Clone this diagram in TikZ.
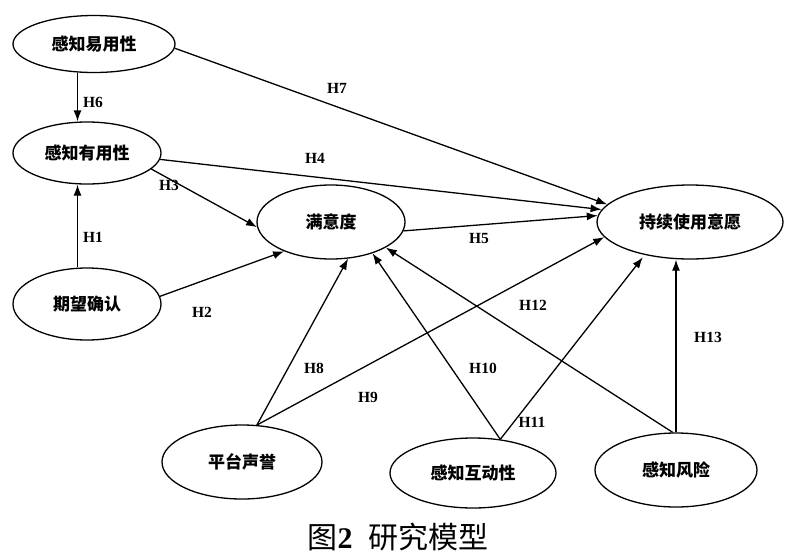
\documentclass[tikz,border=0pt]{standalone}
\usepackage{fontspec}
\setmainfont{Liberation Serif}
\newfontfamily\cjk{Noto Sans CJK SC}
\usetikzlibrary{shapes.geometric,arrows.meta}

\begin{document}
\begin{tikzpicture}[x=1pt,y=-1pt,
                    var/.style={draw,ellipse,line width=1.3pt,inner sep=0pt,font=\cjk\bfseries\fontsize{17}{17}\selectfont},
                    hyp/.style={font=\bfseries\fontsize{15.5}{15.5}\selectfont,inner sep=1pt},
                    link/.style={line width=1.3pt,-{Latex[length=11pt,width=8pt]}}]
                    \useasboundingbox (0,0) rectangle (800,557);
                    \node[var,minimum width=162pt,minimum height=57pt] (peou) at (94,44) {感知易用性};
                    \node[var,minimum width=148pt,minimum height=62pt] (pu) at (87,153) {感知有用性};
                    \node[var,minimum width=148pt,minimum height=72pt] (ec) at (87,304) {期望确认};
                    \node[var,minimum width=148pt,minimum height=74pt] (sat) at (331,222) {满意度};
                    \node[var,minimum width=186pt,minimum height=74pt] (ci) at (690,222) {持续使用意愿};
                    \node[var,minimum width=160pt,minimum height=74pt] (rep) at (242,462) {平台声誉};
                    \node[var,minimum width=166pt,minimum height=70pt] (inter) at (473,473) {感知互动性};
                    \node[var,minimum width=162pt,minimum height=74pt] (risk) at (676,470) {感知风险};
                    \draw[link] (peou.240) -- (peou.240 |- pu.north);
                    \draw[link] (peou.357) -- (ci.168);
                    \draw[link] (pu.355) -- (ci.172);
                    \draw[link] (pu.346) -- (sat.184);
                    \draw[link] (ec.north -| peou.240) -- (pu.south -| peou.240);
                    \draw[link] (ec.6) -- (sat.212);
                    \draw[link] (sat.353) -- (ci.176);
                    \draw[link] (rep.68) -- (sat.295);
                    \draw[link] (rep.68) -- (ci.190);
                    \draw[link] (inter.51) -- (sat.323);
                    \draw[link,shorten >=3pt] (inter.51) -- (ci.216);
                    \draw[link] (risk.95) -- (sat.335);
                    \draw[link] (risk.north) -- (risk.north |- ci.south);
                    \node[hyp] (h1) at (93,237) {H1};
                    \node[hyp] (h2) at (202,312) {H2};
                    \node[hyp] (h3) at (169,185) {H3};
                    \node[hyp] (h4) at (315,158) {H4};
                    \node[hyp] (h5) at (479,238) {H5};
                    \node[hyp] (h6) at (93,102) {H6};
                    \node[hyp] (h7) at (337,88) {H7};
                    \node[hyp] (h8) at (314,368) {H8};
                    \node[hyp] (h9) at (368,397) {H9};
                    \node[hyp] (h10) at (483,368) {H10};
                    \node[hyp] (h11) at (532,422) {H11};
                    \node[hyp] (h12) at (533,305) {H12};
                    \node[hyp] (h13) at (708,337) {H13};
                    \node[font=\fontsize{30}{30}\selectfont] (cap) at (398,537) {{\cjk 图}\textbf{2}\hspace{16pt}{\cjk 研究模型}};
                \end{tikzpicture}
\end{document}
